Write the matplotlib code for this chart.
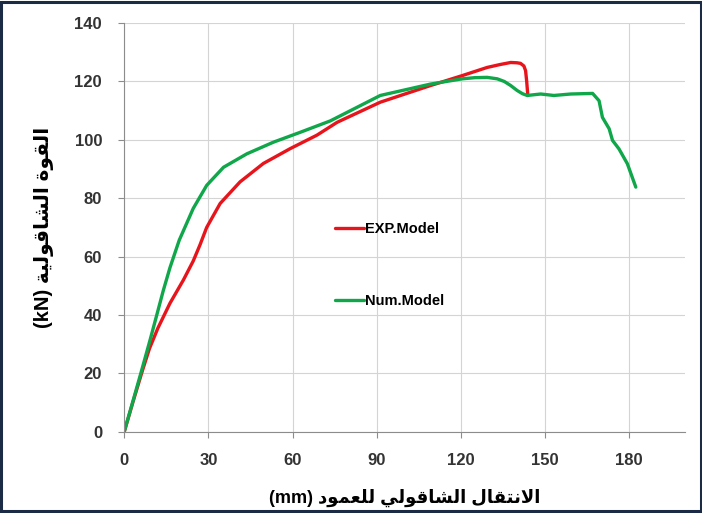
import matplotlib
matplotlib.use('Agg')
import matplotlib.pyplot as plt
from matplotlib.patches import Rectangle

# data
exp_x = [0, 3.2, 6.5, 9, 12, 16.3, 21.1, 24.6, 27, 29.4, 34.2, 41.3, 49.6, 59.2,
         68.7, 75.9, 91.3, 109.2, 120.5, 129.4, 134, 137.8, 140, 141.3, 142.5, 143.1,
         143.5, 143.9]
exp_y = [0, 10.5, 21, 28.5, 35.5, 44, 52, 58.5, 64, 70, 78.2, 85.6, 91.9, 97,
         101.6, 106, 112.9, 118.6, 122, 124.8, 125.8, 126.5, 126.4, 126.2, 125.3, 123.7,
         120, 115.2]

num_x = [0, 3.2, 6.2, 9.2, 11.6, 13.9, 16.3, 19.6, 24.6, 29.4, 35.4, 43.7, 53.2,
         62.8, 73.5, 91.3, 109.2, 120.5, 125, 129.4, 133, 135.5, 137.8, 140.1, 142,
         143.7, 148.5, 153.2, 159.2, 167, 169.3, 170.5, 172.9, 174.1, 176.4, 179.4, 182.4]
num_y = [0, 10.8, 21, 31.4, 40, 48.3, 56.2, 65.6, 76.5, 84.4, 90.6, 95.2, 99.2,
         102.6, 106.5, 115.2, 119.1, 120.9, 121.3, 121.4, 120.9, 120, 118.6, 116.9, 115.8,
         115.2, 115.7, 115.2, 115.7, 115.9, 113.4, 107.7, 103.8, 99.8, 96.9, 91.8, 83.8]

x_ticks = [0, 30, 60, 90, 120, 150, 180]
y_ticks = [0, 20, 40, 60, 80, 100, 120, 140]

x_title = 'الانتقال الشاقولي للعمود'
y_title = 'القوة الشاقولية'

# minimal arabic shaping (no reshaper lib available)
FORMS = {
    'ا': (0xFE8D, 0xFE8E, None, None),
    'ل': (0xFEDD, 0xFEDE, 0xFEDF, 0xFEE0),
    'ن': (0xFEE5, 0xFEE6, 0xFEE7, 0xFEE8),
    'ت': (0xFE95, 0xFE96, 0xFE97, 0xFE98),
    'ق': (0xFED5, 0xFED6, 0xFED7, 0xFED8),
    'ش': (0xFEB5, 0xFEB6, 0xFEB7, 0xFEB8),
    'و': (0xFEED, 0xFEEE, None, None),
    'ي': (0xFEF1, 0xFEF2, 0xFEF3, 0xFEF4),
    'ع': (0xFEC9, 0xFECA, 0xFECB, 0xFECC),
    'م': (0xFEE1, 0xFEE2, 0xFEE3, 0xFEE4),
    'د': (0xFEA9, 0xFEAA, None, None),
    'ة': (0xFE93, 0xFE94, None, None),
}


def joins_left(c):
    return c in FORMS and FORMS[c][2] is not None


def shape(word):
    out = []
    i = 0
    while i < len(word):
        c = word[i]
        prev = word[i - 1] if i > 0 else ''
        if c not in FORMS:
            out.append(c)
            i += 1
            continue
        after_join = joins_left(prev)
        if c == 'ل' and i + 1 < len(word) and word[i + 1] == 'ا':
            out.append(chr(0xFEFC if after_join else 0xFEFB))
            i += 2
            continue
        nxt = word[i + 1] if i + 1 < len(word) else ''
        before_join = joins_left(c) and nxt in FORMS
        iso, fin, ini, med = FORMS[c]
        if after_join and before_join:
            out.append(chr(med))
        elif after_join:
            out.append(chr(fin))
        elif before_join:
            out.append(chr(ini))
        else:
            out.append(chr(iso))
        i += 1
    return ''.join(out)[::-1]


def rtl(text):
    return ' '.join(shape(w) for w in text.split(' ')[::-1])


fonts = ['Liberation Sans', 'DejaVu Sans']

fig = plt.figure(figsize=(7.02, 5.13), dpi=100)
ax = fig.add_axes([0.177, 0.1585, 0.799, 0.7965])

ax.plot(exp_x, exp_y, color='#e8141c', lw=2.4, label='EXP.Model',
        solid_joinstyle='round', solid_capstyle='round')
ax.plot(num_x, num_y, color='#10a64a', lw=2.4, label='Num.Model',
        solid_joinstyle='round', solid_capstyle='round')

ax.set_xlim(0, 200)
ax.set_ylim(0, 140)
ax.set_xticks(x_ticks)
ax.set_yticks(y_ticks)
ax.grid(True, color='#d4d4d4', lw=0.8)
ax.set_axisbelow(True)
for s in ['top', 'right']:
    ax.spines[s].set_visible(False)
for s in ['left', 'bottom']:
    ax.spines[s].set_color('#8c8c8c')
ax.tick_params(length=4, color='#8c8c8c', labelsize=12)
ax.tick_params(axis='y', pad=12)
ax.tick_params(axis='x', pad=11)
for lab in ax.get_xticklabels() + ax.get_yticklabels():
    lab.set_family(fonts)
    lab.set_fontweight('bold')
    lab.set_color('#333333')

ax.set_xlabel('(mm) ' + rtl(x_title), family=fonts, fontweight='bold',
              fontsize=13, labelpad=15.5)
ax.set_ylabel('(kN) ' + rtl(y_title), family=fonts, fontweight='bold',
              fontsize=14.5, labelpad=14.5)

leg = ax.legend(loc='upper left', bbox_to_anchor=(0.352, 0.545), frameon=False,
                handlelength=2.0, handletextpad=0.1, labelspacing=4.0,
                prop={'family': fonts, 'weight': 'bold', 'size': 10.5})

fig.patches.append(Rectangle((0.002, 0.003), 0.996, 0.994, transform=fig.transFigure,
                             fill=False, edgecolor='#1c2b45', lw=2.2))

plt.savefig('out.png', dpi=100)
